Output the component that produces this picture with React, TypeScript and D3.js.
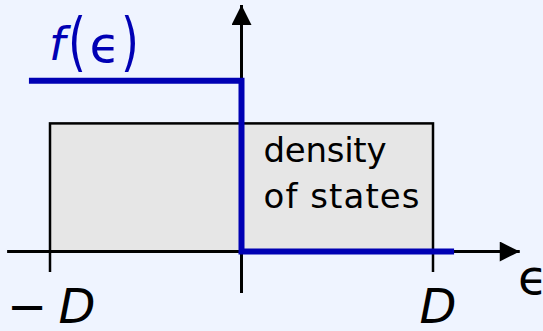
import React from "react";
import * as d3 from "d3";

// Energy in units of the band half-width D
const bandEdges = [-1, 1];
const dosLevel = 0.75;
const fermiEps = [-1.11, 0, 0, 1.11];
const fermiF = [1, 1, 0, 0];
const tickEps = [-1, 1];
const tickLabels = ["\u2212D", "D"];

const W = 543;
const H = 331;

export default function App() {
  const x = d3.scaleLinear().domain([-1, 1]).range([50, 433]);
  const y = d3.scaleLinear().domain([0, 1]).range([251.5, 80.7]);

  const line = d3
    .line<number>()
    .x((_, i) => x(fermiEps[i]))
    .y((d) => y(d));

  const bg = "#eff4ff";
  const blue = "#0000b4";
  const mathFont = "'DejaVu Sans', sans-serif";
  const textFont = "'DejaVu Sans', sans-serif";

  return (
    <svg
      width={W}
      height={H}
      style={{ position: "fixed", left: 0, top: 0, display: "block" }}
    >
      <defs>
        <marker
          id="arrow"
          viewBox="0 0 10 10"
          refX="10"
          refY="5"
          markerWidth="28"
          markerHeight="20"
          markerUnits="userSpaceOnUse"
          orient="auto"
        >
          <path d="M0,0 L10,5 L0,10 Z" fill="#000" />
        </marker>
      </defs>
      <rect width={W} height={H} fill={bg} />

      {/* density of states: flat band */}
      <rect
        x={x(bandEdges[0])}
        y={y(dosLevel)}
        width={x(bandEdges[1]) - x(bandEdges[0])}
        height={y(0) - y(dosLevel)}
        fill="#e6e6e6"
        stroke="#000"
        strokeWidth={2.5}
      />

      {/* ticks at the band edges */}
      {tickEps.map((e, i) => (
        <line
          key={i}
          x1={x(e)}
          x2={x(e)}
          y1={y(0)}
          y2={y(-0.12)}
          stroke="#000"
          strokeWidth={2.5}
        />
      ))}

      {/* axes */}
      <line
        x1={x(-1.224)}
        x2={x(1.453)}
        y1={y(0)}
        y2={y(0)}
        stroke="#000"
        strokeWidth={3}
        markerEnd="url(#arrow)"
      />
      <line
        x1={x(0)}
        x2={x(0)}
        y1={y(-0.243)}
        y2={y(1.443)}
        stroke="#000"
        strokeWidth={3}
        markerEnd="url(#arrow)"
      />

      {/* Fermi function at zero temperature */}
      <path
        d={line(fermiF) || ""}
        fill="none"
        stroke={blue}
        strokeWidth={6}
        strokeLinejoin="miter"
      />

      <text
        x={x(0) + 22}
        y={162}
        fontFamily={textFont}
        fontSize={34}
        textLength={123}
        lengthAdjust="spacing"
        fill="#000"
      >
        density
      </text>
      <text
        x={x(0) + 22}
        y={208}
        fontFamily={textFont}
        fontSize={34}
        textLength={156}
        lengthAdjust="spacing"
        fill="#000"
      >
        of states
      </text>

      {/* f(ϵ) label */}
      <g fontFamily={mathFont} fill={blue} textAnchor="middle">
        <text x={57} y={60} fontSize={46} fontStyle="italic">
          f
        </text>
        <text transform="translate(77,63.5) scale(1,1.4)" fontSize={46}>
          (
        </text>
        <text x={105} y={62} fontSize={50}>
          {"\u03f5"}
        </text>
        <text transform="translate(130,63.5) scale(1,1.4)" fontSize={46}>
          )
        </text>
      </g>

      {/* band-edge labels */}
      <text x={7} y={323} fontFamily={mathFont} fontSize={48} fill="#000">
        {"\u2212"}
      </text>
      <text
        x={x(tickEps[0]) + 27}
        y={323}
        textAnchor="middle"
        fontFamily={mathFont}
        fontSize={48}
        fontStyle="italic"
        fill="#000"
      >
        {tickLabels[0].slice(1)}
      </text>
      <text
        x={x(tickEps[1]) + 5}
        y={323}
        textAnchor="middle"
        fontFamily={mathFont}
        fontSize={48}
        fontStyle="italic"
        fill="#000"
      >
        {tickLabels[1]}
      </text>

      <text x={518} y={294} fontFamily={mathFont} fontSize={48} fill="#000">
        {"\u03f5"}
      </text>
    </svg>
  );
}
